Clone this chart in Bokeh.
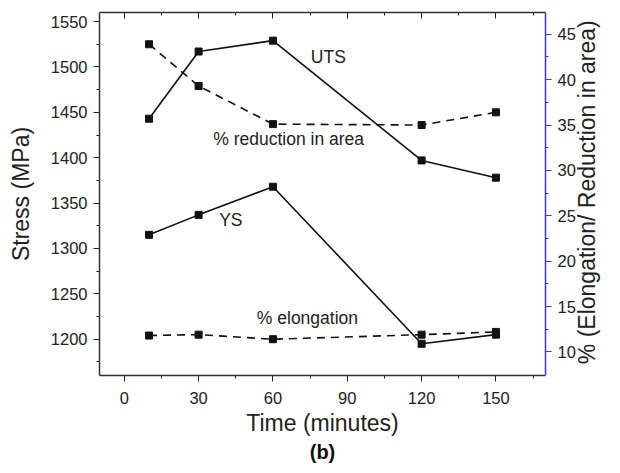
import math
from bokeh.plotting import figure
from bokeh.models import (LinearAxis, Range1d, FixedTicker, Title, Label,
                          CustomJSTickFormatter)
from bokeh.embed import file_html
from bokeh.resources import INLINE

time_min = [10, 30, 60, 120, 150]
uts = [1443, 1517, 1529, 1397, 1378]
ys = [1315, 1337, 1368, 1195, 1205]
reduction_area = [43.9, 39.3, 35.1, 35.0, 36.4]
elongation = [11.8, 11.9, 11.4, 11.9, 12.2]

x_ticks = [0, 30, 60, 90, 120, 150]
x_minor = [15, 45, 75, 105, 135, 165]
y_ticks = [1200, 1250, 1300, 1350, 1400, 1450, 1500, 1550]
y_minor = [1175, 1225, 1275, 1325, 1375, 1425, 1475, 1525]
r_ticks = [10, 15, 20, 25, 30, 35, 40, 45]
r_minor = [12.5, 17.5, 22.5, 27.5, 32.5, 37.5, 42.5]

FONT = "Liberation Sans"

p = figure(width=616, height=465, output_backend="svg", toolbar_location=None,
           x_range=Range1d(-10, 170), y_range=Range1d(1160, 1560),
           min_border_left=99, min_border_right=70, min_border_top=12,
           min_border_bottom=90)
p.extra_y_ranges = {"pct": Range1d(7.4, 47.4)}
p.grid.visible = False
p.outline_line_color = None
p.background_fill_color = "white"
p.border_fill_color = "white"

def style_axis(ax, ticks, minor, tick_color="#222222"):
    ax.ticker = FixedTicker(ticks=ticks, minor_ticks=minor)
    ax.axis_line_color = "#333333"
    ax.axis_line_width = 1.5
    ax.major_tick_line_color = tick_color
    ax.minor_tick_line_color = tick_color
    ax.major_tick_in = 0
    ax.major_tick_out = 6
    ax.minor_tick_in = 0
    ax.minor_tick_out = 3
    ax.major_label_text_font = FONT
    ax.major_label_text_font_size = "16.5px"
    ax.major_label_text_color = "#222222"
    ax.axis_label_text_font = FONT
    ax.axis_label_text_font_size = "23px"
    ax.axis_label_text_font_style = "normal"
    ax.axis_label_text_color = "#222222"

xa = p.xaxis[0]
style_axis(xa, x_ticks, x_minor)
xa.axis_label = "Time (minutes)"
xa.major_label_standoff = 10
xa.axis_label_standoff = 3

ya = p.yaxis[0]
style_axis(ya, y_ticks, y_minor)
ya.axis_label = "Stress (MPa)"
ya.major_label_standoff = 6
ya.axis_label_standoff = 14

ra = LinearAxis(y_range_name="pct")
style_axis(ra, r_ticks, r_minor, tick_color="#3a3ad0")
ra.axis_line_color = "#3a3ad0"
ra.major_label_standoff = 6
p.add_layout(ra, "right")

# right-hand axis title (reads bottom to top), drawn as a rotated tick label
right_title = "% (Elongation/ Reduction in area)"
rt = LinearAxis(y_range_name="pct", ticker=FixedTicker(ticks=[13], minor_ticks=[]),
                major_label_overrides={13: right_title})
rt.axis_line_color = None
rt.major_tick_line_color = None
rt.minor_tick_line_color = None
rt.major_tick_in = 0
rt.major_tick_out = 0
rt.minor_tick_in = 0
rt.minor_tick_out = 0
rt.major_label_orientation = math.pi / 2
rt.major_label_standoff = 9
rt.major_label_text_font = FONT
rt.major_label_text_font_size = "23px"
rt.major_label_text_line_height = 1.0
rt.major_label_text_color = "#222222"
p.add_layout(rt, "right")

ta = LinearAxis()
style_axis(ta, x_ticks, x_minor)
ta.major_tick_in = 6
ta.major_tick_out = 0
ta.minor_tick_in = 3
ta.minor_tick_out = 0
ta.formatter = CustomJSTickFormatter(code="return '';")
ta.major_label_text_font_size = "0px"
ta.major_label_standoff = 0
p.add_layout(ta, "above")

p.add_layout(Title(text="(b)", text_font=FONT, text_font_size="20px",
                   text_font_style="bold", align="center", standoff=0,
                   text_color="#111111"), "below")

lc = "#111111"
p.line(time_min, uts, line_color=lc, line_width=1.6)
p.scatter(time_min, uts, marker="square", size=7, color=lc)
p.line(time_min, ys, line_color=lc, line_width=1.6)
p.scatter(time_min, ys, marker="square", size=7, color=lc)
p.line(time_min, reduction_area, y_range_name="pct", line_color=lc,
       line_width=1.6, line_dash="8 6")
p.scatter(time_min, reduction_area, y_range_name="pct", marker="square",
          size=7, color=lc)
p.line(time_min, elongation, y_range_name="pct", line_color=lc,
       line_width=1.6, line_dash="8 6")
p.scatter(time_min, elongation, y_range_name="pct", marker="square",
          size=7, color=lc)

def lab(x, y, t, yr="default"):
    p.add_layout(Label(x=x, y=y, text=t, y_range_name=yr, text_font=FONT,
                       text_font_size="17.5px", text_color="#222222",
                       text_align="left", text_baseline="middle"))

lab(75.3, 1511.5, "UTS")
lab(35.9, 33.5, "% reduction in area", "pct")
lab(38.3, 1330.8, "YS")
lab(53.5, 13.7, "% elongation", "pct")

open("out.html", "w").write(file_html(p, INLINE))
